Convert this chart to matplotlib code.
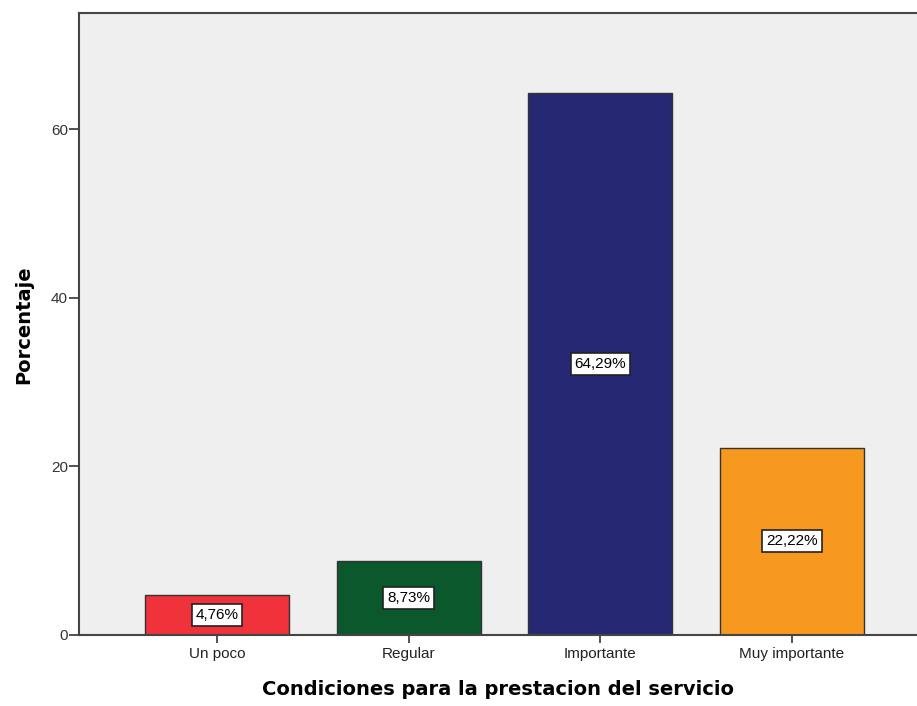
import numpy as np
import matplotlib.pyplot as plt

plt.rcParams['font.family'] = ['Liberation Sans', 'DejaVu Sans']

categorias = ["Un poco", "Regular", "Importante", "Muy importante"]
porcentajes = [4.76, 8.73, 64.29, 22.22]
colores = ["#F0323B", "#0B582C", "#272873", "#F7981F"]
yticks = [0, 20, 40, 60]

fig = plt.figure(figsize=(9.17, 7.06), dpi=100)
ax = fig.add_axes([0.0861, 0.1006, 0.9139, 0.8803])
ax.set_facecolor("#EFEFEF")

x = np.arange(len(categorias))
ax.bar(x, porcentajes, width=0.75, color=colores, edgecolor="#333333", linewidth=1.0, zorder=2)

# etiquetas de porcentaje en el centro de cada barra
for xi, v in zip(x, porcentajes):
    ax.text(xi, v / 2, "{:.2f}%".format(v).replace(".", ","), ha="center", va="center",
            fontsize=11, color="black", zorder=3,
            bbox=dict(boxstyle="square,pad=0.25", facecolor="white", edgecolor="#222222", linewidth=1.2))

ax.set_xlim(-0.72, 3.652)
ax.set_ylim(0, 73.7)
ax.set_xticks(x)
ax.set_xticklabels(categorias, fontsize=11, color="#222222")
ax.set_yticks(yticks)
ax.set_yticklabels([str(t) for t in yticks], fontsize=11, color="#333333")
ax.tick_params(axis="y", direction="out", length=7, width=1.2, color="#333333", pad=1)
ax.tick_params(axis="x", direction="out", length=6, width=1.2, color="#333333", pad=3)

for s in ["left", "bottom", "top"]:
    ax.spines[s].set_color("#444444")
    ax.spines[s].set_linewidth(1.5)
ax.spines["right"].set_visible(False)

ax.set_xlabel("Condiciones para la prestacion del servicio", fontsize=14, fontweight="bold",
              family="DejaVu Sans", labelpad=13)
ax.set_ylabel("Porcentaje", fontsize=14, fontweight="bold", family="DejaVu Sans", labelpad=13)

fig.savefig("out.png", dpi=100)
